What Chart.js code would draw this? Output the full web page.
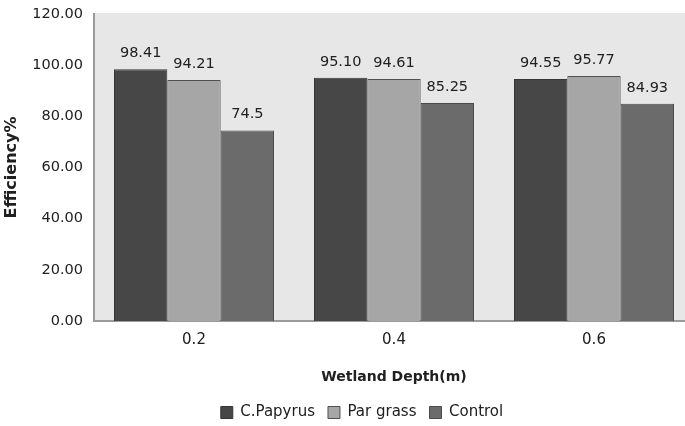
<!DOCTYPE html>
<html>
<head>
<meta charset="utf-8">
<script src="https://cdn.jsdelivr.net/npm/chart.js@4.4.1/dist/chart.umd.min.js"></script>
<style>
  html, body { margin: 0; padding: 0; background: #ffffff; overflow: hidden; }
  #wrap { width: 685px; height: 426px; position: relative; overflow: hidden; }
  #chart { display: block; }
</style>
</head>
<body>
<div id="wrap"><canvas id="chart" width="695" height="426"></canvas></div>
<script>
// Wetland depth categories and removal efficiency per treatment
const depths = ['0.2', '0.4', '0.6'];
const papyrusLabels = ['98.41', '95.10', '94.55'];
const parGrassLabels = ['94.21', '94.61', '95.77'];
const controlLabels = ['74.5', '85.25', '84.93'];
const yTicks = [0, 20, 40, 60, 80, 100, 120];

const papyrus = papyrusLabels.map(Number);
const parGrass = parGrassLabels.map(Number);
const control = controlLabels.map(Number);

const FONT = "'DejaVu Sans', sans-serif";
const TEXT = '#202020';

// Light grey plot area behind the bars
const plotBackground = {
  id: 'plotBackground',
  beforeDraw(chart) {
    const { ctx, chartArea: a } = chart;
    ctx.save();
    ctx.fillStyle = '#e7e7e7';
    ctx.fillRect(a.left, a.top - 1, a.right - a.left, a.bottom - a.top + 1);
    ctx.restore();
  }
};

// Value labels above each bar
const valueLabels = {
  id: 'valueLabels',
  afterDatasetsDraw(chart) {
    const { ctx } = chart;
    ctx.save();
    ctx.font = "14.5px " + FONT;
    ctx.fillStyle = TEXT;
    ctx.textAlign = 'center';
    ctx.textBaseline = 'alphabetic';
    chart.data.datasets.forEach((ds, i) => {
      const meta = chart.getDatasetMeta(i);
      meta.data.forEach((bar, j) => {
        ctx.fillText(ds.valueText[j], bar.x, bar.y - 12);
      });
    });
    ctx.restore();
  }
};

// Nudge the legend row to the right of the centre line
const legendShift = {
  id: 'legendShift',
  afterLayout(chart) {
    const lg = chart.legend;
    if (!lg) return;
    const dx = 15, dy = 1;
    lg.left += dx;
    lg.right += dx;
    lg.top += dy;
    lg.bottom += dy;
    (lg.legendHitBoxes || []).forEach(h => { h.left += dx; h.top += dy; });
  }
};

new Chart(document.getElementById('chart'), {
  type: 'bar',
  data: {
    labels: depths,
    datasets: [
      { label: 'C.Papyrus', data: papyrus, valueText: papyrusLabels,
        backgroundColor: '#474747', borderColor: '#353535', borderWidth: 1 },
      { label: 'Par grass', data: parGrass, valueText: parGrassLabels,
        backgroundColor: '#a6a6a6', borderColor: '#505050', borderWidth: 1 },
      { label: 'Control', data: control, valueText: controlLabels,
        backgroundColor: '#6b6b6b', borderColor: '#4a4a4a', borderWidth: 1 }
    ]
  },
  options: {
    responsive: false,
    animation: false,
    layout: { padding: { top: 14, right: 1, left: 0, bottom: 0 } },
    datasets: { bar: { categoryPercentage: 0.8, barPercentage: 1.0 } },
    plugins: {
      legend: {
        position: 'bottom',
        maxHeight: 35,
        labels: {
          font: { family: FONT, size: 15 },
          color: TEXT,
          boxWidth: 12,
          boxHeight: 12,
          padding: 13
        }
      },
      tooltip: { enabled: false }
    },
    scales: {
      x: {
        afterFit(scale) { scale.height = 70; },
        grid: { display: false, drawTicks: false },
        border: { color: '#9a9a9a', width: 2 },
        ticks: { font: { family: FONT, size: 15 }, color: TEXT, padding: 10 },
        title: { display: true, text: 'Wetland Depth(m)',
                 font: { family: FONT, size: 14, weight: 'bold' }, color: TEXT,
                 padding: { top: 0, bottom: 5 } }
      },
      y: {
        min: 0, max: 120,
        afterBuildTicks(scale) { scale.ticks = yTicks.map(v => ({ value: v })); },
        afterFit(scale) {
          scale.width = 94;
          scale.paddingTop = 0;
          scale.paddingBottom = 0;
        },
        grid: { display: false, drawTicks: false },
        border: { color: '#9a9a9a', width: 2 },
        ticks: { font: { family: FONT, size: 14.5 }, color: TEXT, padding: 11,
                 callback: v => Number(v).toFixed(2) },
        title: { display: true, text: 'Efficiency%',
                 font: { family: FONT, size: 16, weight: 'bold' }, color: TEXT,
                 padding: { top: 2, bottom: 0 } }
      }
    }
  },
  plugins: [plotBackground, valueLabels, legendShift]
});
</script>
</body>
</html>
